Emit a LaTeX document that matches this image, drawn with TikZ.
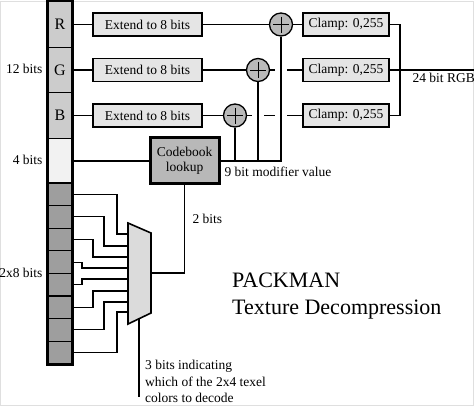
\documentclass[tikz,border=0pt]{standalone}
\usepackage{fontspec}
\setmainfont{Liberation Serif}
\usetikzlibrary{calc}

\definecolor{cellgray}{gray}{0.80}
\definecolor{palegray}{gray}{0.95}
\definecolor{darkcell}{gray}{0.62}
\definecolor{boxgray}{gray}{0.90}
\definecolor{addgray}{gray}{0.73}
\definecolor{lookgray}{gray}{0.72}
\definecolor{muxgray}{gray}{0.86}

\begin{document}
\begin{tikzpicture}[x=1pt, y=-1pt, font=\fontsize{13.5}{16.5}\selectfont,
  cell/.style={draw, line width=1.2pt, minimum width=24pt, inner sep=0pt, font=\fontsize{16}{18}\selectfont},
  extbox/.style={draw, line width=1.6pt, fill=boxgray, minimum width=109pt, minimum height=23pt, inner sep=0pt},
  clampbox/.style={extbox, minimum width=86pt},
  adder/.style={circle, draw, line width=1.3pt, fill=addgray, minimum size=23pt, inner sep=0pt,
    path picture={\draw[line width=0.7pt]
      ($(path picture bounding box.center)+(-8,0)$) -- ++(16,0)
      ($(path picture bounding box.center)+(0,-8)$) -- ++(0,16);}},
  wire/.style={line width=1.6pt},
  thinwire/.style={line width=1.1pt}]
  \useasboundingbox (0,0) rectangle (474,408);
  \draw[gray!25] (0.5,1) rectangle (473.5,405);

  % 12 bit base colour and 4 bit table index
  \foreach \name / \txt / \ycord / \h / \col in {
    r/R/24.5/46/cellgray,
    g/G/70/45/cellgray,
    b/B/115.5/46/cellgray,
    m/{}/160.75/44.5/palegray}{
    \node[cell, fill=\col, minimum height=\h] (\name) at (60, \ycord) {\txt};
  }

  % 2x8 bit index cells
  \foreach \k in {1,...,8}{
    \node[cell, fill=darkcell, minimum height=22.6] (d\k) at (60, {183+22.6*(\k-0.5)}) {};
  }
  \draw[line width=3pt] (r.north west) rectangle (d8.south east);

  \node[anchor=east] (lbl12) at (46, 69) {12 bits};
  \node[anchor=east] (lbl4) at (46, 160) {4 bits};
  \node[anchor=east] (lbl16) at (46, 273) {2x8 bits};

  % codebook
  \node[draw, line width=3pt, fill=lookgray, minimum width=69pt, minimum height=46pt,
    inner sep=0pt, align=center, font=\fontsize{13.5}{15.5}\selectfont] (lookup) at (184.5, 160.75) {Codebook\\lookup};
  \draw[wire] (m) -- (lookup);

  % colour channels
  \foreach \c / \ycord / \ax in {r/24.5/281, g/70/258, b/115.5/235}{
    \node[extbox] (e\c) at (147.5, \ycord) {Extend to 8 bits};
    \node[adder] (a\c) at (\ax, \ycord) {};
    \node[clampbox] (c\c) at (346, \ycord) {Clamp: 0,255};
    \draw[wire] (\c) -- (e\c) -- (a\c) -- (c\c);
  }

  % modifier value to the adders
  \foreach \v / \h in {ar/cg, ar/cb, ag/cb}{
    \fill[white] ($(\v |- \h)+(-6,-2)$) rectangle ++(12,4);
  }
  \coordinate (modr) at (ar |- lookup.east);
  \draw[wire] (lookup) -- (modr) -- (ar);
  \draw[wire] (ag) -- (ag |- modr);
  \draw[wire] (ab) -- (ab |- modr);
  \node[anchor=west] (lblmod) at (221, 172) {9 bit modifier value};

  % output
  \coordinate (bus) at (400, 70);
  \coordinate (rgbout) at (474, 70);
  \draw[wire] (cr.east) -| (bus) |- (cb.east);
  \draw[wire] (cg) -- (rgbout);
  \node[anchor=west] (lblrgb) at (409, 78) {24 bit RGB};

  % multiplexer
  \draw[wire, fill=muxgray] (128,223) -- (151,233) -- (151,313) -- (128,324) -- cycle;
  \coordinate (muxout) at (151, 273);
  \coordinate (sel) at (139, 318.5);
  \coordinate (selend) at (139, 397);
  \draw[wire] (muxout) -| (lookup.south);
  \draw[wire] (sel) -- (selend);
  \node[anchor=west] (lbl2) at (189, 219) {2 bits};

  \foreach \k / \bx / \iy in {
    1/117/234, 2/104/246, 3/93/257, 4/82/268,
    5/82/279, 6/93/291, 7/104/302, 8/117/312}{
    \coordinate (in\k) at (128, \iy);
    \draw[thinwire] (d\k.east) -| (\bx, \iy) -- (in\k);
  }

  \node[anchor=west, align=left, inner sep=0pt] (lblsel) at (145, 381.5) {3 bits indicating\\which of the 2x4 texel\\colors to decode};

  % title
  \node[anchor=west, align=left, inner sep=0pt, font=\fontsize{22}{27}\selectfont] (title) at (232, 296.5) {PACKMAN\\Texture Decompression};
\end{tikzpicture}
\end{document}
